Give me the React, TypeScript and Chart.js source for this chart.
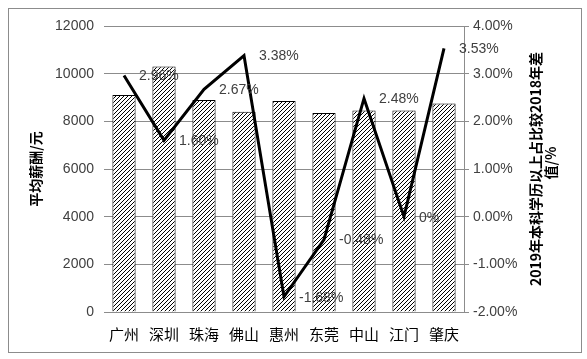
import React, { useEffect, useRef } from "react";
import { Chart, registerables } from "chart.js";

Chart.register(...registerables);

const categories = ["广州", "深圳", "珠海", "佛山", "惠州", "东莞", "中山", "江门", "肇庆"];
const salaryValues = [9100, 10300, 8900, 8400, 8850, 8350, 8450, 8450, 8750];
const diffValues = [2.96, 1.6, 2.67, 3.38, -1.68, -0.48, 2.48, 0, 3.53];
const leftTitle = "平均薪酬/元";
const rightTitleLines = ["2019年本科学历以上占比较2018年差", "值/%"];

const W = 587;
const H = 359;
const NUM_FONT = "'Liberation Sans', 'Noto Sans CJK SC', sans-serif";
const CJK_FONT = "'Noto Sans CJK SC', sans-serif";

function makeHatch(ctx: CanvasRenderingContext2D): CanvasPattern | string {
  const c = document.createElement("canvas");
  c.width = 4;
  c.height = 4;
  const g = c.getContext("2d");
  if (!g) return "#fff";
  g.fillStyle = "#ffffff";
  g.fillRect(0, 0, 4, 4);
  g.strokeStyle = "#000000";
  g.lineWidth = 1;
  g.beginPath();
  g.moveTo(-1, 5);
  g.lineTo(5, -1);
  g.moveTo(-1, 1);
  g.lineTo(1, -1);
  g.moveTo(3, 5);
  g.lineTo(5, 3);
  g.stroke();
  return ctx.createPattern(c, "repeat") || "#fff";
}

const decorPlugin = {
  id: "decor",
  afterDatasetsDraw(chart: any) {
    const ctx = chart.ctx as CanvasRenderingContext2D;
    const meta = chart.getDatasetMeta(1);
    ctx.save();
    ctx.font = `14px ${NUM_FONT}`;
    ctx.fillStyle = "#404040";
    ctx.textAlign = "left";
    ctx.textBaseline = "middle";
    meta.data.forEach((pt: any, i: number) => {
      const v = diffValues[i];
      const label = v === 0 ? "0%" : v.toFixed(2) + "%";
      ctx.fillText(label, pt.x + 15, pt.y + 1);
    });
    ctx.restore();
  },
  afterDraw(chart: any) {
    const ctx = chart.ctx as CanvasRenderingContext2D;
    const area = chart.chartArea;
    const cy = (area.top + area.bottom) / 2;
    ctx.save();
    // outer frame
    ctx.strokeStyle = "#8c8c8c";
    ctx.lineWidth = 1;
    ctx.strokeRect(8.5, 8.5, 573, 344);
    // left title
    ctx.fillStyle = "#000";
    ctx.textAlign = "center";
    ctx.textBaseline = "middle";
    ctx.font = `bold 14px ${CJK_FONT}`;
    ctx.save();
    ctx.translate(36, cy);
    ctx.rotate(-Math.PI / 2);
    ctx.fillText(leftTitle, 0, 0);
    ctx.restore();
    // right title
    ctx.font = `bold 14px ${CJK_FONT}`;
    ctx.save();
    ctx.translate(536, cy);
    ctx.rotate(-Math.PI / 2);
    ctx.textAlign = "center";
    ctx.fillText(rightTitleLines[0], 0, 0);
    ctx.fillText(rightTitleLines[1], 6, 15);
    ctx.restore();
    ctx.restore();
  },
};

export default function App() {
  const ref = useRef<HTMLCanvasElement | null>(null);
  useEffect(() => {
    const canvas = ref.current;
    if (!canvas) return;
    const ctx = canvas.getContext("2d");
    if (!ctx) return;
    const hatch = makeHatch(ctx);
    const chart = new Chart(ctx, {
      type: "bar",
      data: {
        labels: categories,
        datasets: [
          {
            type: "bar",
            label: "平均薪酬",
            data: salaryValues,
            yAxisID: "y",
            backgroundColor: hatch as any,
            borderColor: "#000",
            borderWidth: 1,
            barPercentage: 0.58,
            categoryPercentage: 1,
            order: 2,
          },
          {
            type: "line",
            label: "差值",
            data: diffValues,
            yAxisID: "y1",
            borderColor: "#000",
            borderWidth: 3,
            pointRadius: 0,
            tension: 0,
            borderJoinStyle: "miter",
            order: 1,
          } as any,
        ],
      },
      options: {
        responsive: false,
        animation: false,
        layout: { padding: { left: 0, right: 0, top: 26, bottom: 0 } },
        plugins: {
          legend: { display: false },
          tooltip: { enabled: false },
        },
        scales: {
          x: {
            grid: { display: false },
            border: { display: true, color: "#8c8c8c", width: 1 },
            ticks: {
              color: "#000",
              font: { size: 15, family: CJK_FONT },
              padding: 5,
              maxRotation: 0,
            },
            afterFit: (s: any) => {
              s.height = H - 312;
            },
          },
          y: {
            position: "left",
            min: 0,
            max: 12000,
            ticks: {
              stepSize: 2000,
              color: "#404040",
              font: { size: 14, family: NUM_FONT },
              padding: 10,
              callback: (v: any) => String(v),
            },
            grid: { color: "#8c8c8c", lineWidth: 1, drawTicks: false },
            border: { display: false },
            afterFit: (s: any) => {
              s.width = 104;
            },
          },
          y1: {
            position: "right",
            min: -2,
            max: 4,
            ticks: {
              stepSize: 1,
              color: "#404040",
              font: { size: 14, family: NUM_FONT },
              padding: 4,
              callback: (v: any) => Number(v).toFixed(2) + "%",
            },
            grid: { drawOnChartArea: false, drawTicks: true, tickLength: 5, color: "#8c8c8c" },
            border: { display: true, color: "#8c8c8c", width: 1 },
            afterFit: (s: any) => {
              s.width = W - 464;
            },
          },
        },
      },
      plugins: [decorPlugin],
    } as any);
    return () => chart.destroy();
  }, []);
  return (
    <div style={{ position: "fixed", left: 0, top: 0, width: W, height: H, background: "#fff" }}>
      <canvas ref={ref} width={W} height={H} style={{ display: "block" }} />
    </div>
  );
}
